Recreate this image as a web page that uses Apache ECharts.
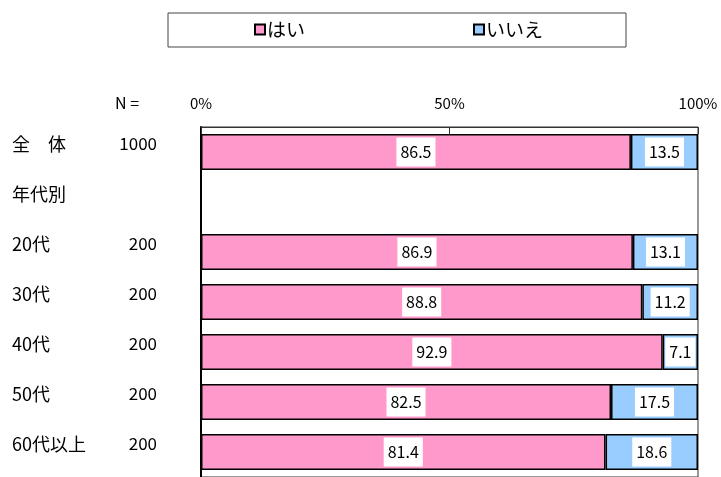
<!DOCTYPE html>
<html>
<head>
<meta charset="utf-8">
<script src="https://cdn.jsdelivr.net/npm/echarts@6/dist/echarts.min.js"></script>
<style>
html,body{margin:0;padding:0;background:#fff;}
#chart{width:721px;height:477px;}
</style>
</head>
<body>
<div id="chart"></div>
<script>
const categories = ['全　体', '年代別', '20代', '30代', '40代', '50代', '60代以上'];
const nLabels = ['1000', '', '200', '200', '200', '200', '200'];
const yesValues = [86.5, null, 86.9, 88.8, 92.9, 82.5, 81.4];
const noValues = [13.5, null, 13.1, 11.2, 7.1, 17.5, 18.6];
const seriesNames = ['はい', 'いいえ'];
const xTicks = { min: 0, max: 100, interval: 50 };

const FONT = '"Noto Sans CJK JP", "Noto Sans", sans-serif';
const chart = echarts.init(document.getElementById('chart'), null, { renderer: 'canvas' });

const labelStyle = {
  show: true,
  position: 'inside',
  color: '#000',
  fontFamily: FONT,
  fontSize: 16,
  backgroundColor: '#fff',
  padding: [7, 4, 6, 4],
  formatter: p => p.value == null ? '' : p.value.toFixed(1)
};

chart.setOption({
  animation: false,
  backgroundColor: '#fff',
  legend: {
    left: 168,
    top: 13,
    orient: 'horizontal',
    backgroundColor: '#fff',
    borderColor: '#444',
    borderWidth: 1,
    borderRadius: 0,
    padding: [7, 83, 8, 86],
    itemGap: 168,
    itemWidth: 10,
    itemHeight: 10,
    icon: 'rect',
    textStyle: { fontFamily: FONT, fontSize: 19, color: '#000', padding: [0, 0, 0, -3] },
    data: seriesNames
  },
  graphic: [{
    type: 'text',
    left: 115,
    top: 95,
    style: { text: 'N =', fontFamily: FONT, fontSize: 16, fill: '#000' }
  }],
  grid: {
    left: 201,
    right: 23,
    top: 127,
    height: 353,
    show: true,
    borderColor: '#333',
    borderWidth: 1,
    backgroundColor: '#fff'
  },
  xAxis: {
    type: 'value',
    position: 'top',
    min: xTicks.min,
    max: xTicks.max,
    interval: xTicks.interval,
    axisLine: { show: true, lineStyle: { color: '#333', width: 1 } },
    axisTick: { show: true, inside: true, length: 7, lineStyle: { color: '#333' } },
    splitLine: { show: false },
    axisLabel: {
      formatter: '{value}%',
      fontFamily: FONT,
      fontSize: 15,
      color: '#000',
      margin: 16
    }
  },
  yAxis: [{
    type: 'category',
    inverse: true,
    data: categories,
    axisLine: { show: true, lineStyle: { color: '#000', width: 2 } },
    axisTick: { show: false },
    axisLabel: {
      align: 'left',
      verticalAlign: 'bottom',
      lineHeight: 16,
      margin: 189,
      fontFamily: FONT,
      fontSize: 18,
      color: '#000'
    }
  }, {
    type: 'category',
    inverse: true,
    position: 'left',
    data: nLabels,
    axisLine: { show: false },
    axisTick: { show: false },
    axisLabel: {
      align: 'right',
      verticalAlign: 'bottom',
      lineHeight: 16,
      margin: 44,
      fontFamily: FONT,
      fontSize: 17,
      color: '#000'
    }
  }],
  series: [{
    name: seriesNames[0],
    type: 'bar',
    stack: 'total',
    barWidth: 36,
    data: yesValues,
    itemStyle: { color: '#FF99CC', borderColor: '#000', borderWidth: 1.5 },
    label: labelStyle
  }, {
    name: seriesNames[1],
    type: 'bar',
    stack: 'total',
    barWidth: 36,
    data: noValues,
    itemStyle: { color: '#99CCFF', borderColor: '#000', borderWidth: 1.5 },
    label: labelStyle
  }]
});
</script>
</body>
</html>
